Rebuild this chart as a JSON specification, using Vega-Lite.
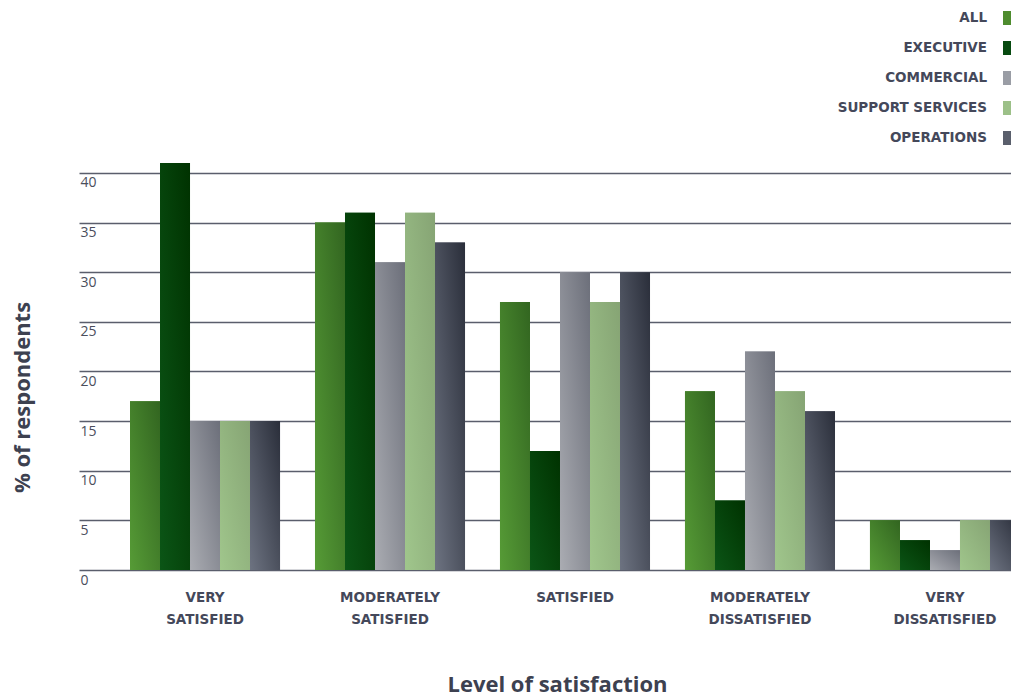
{
  "$schema": "https://vega.github.io/schema/vega-lite/v6.json",
  "width": 932,
  "height": 407,
  "autosize": "none",
  "padding": {"left": 79, "top": 163, "right": 0, "bottom": 128},
  "background": "white",
  "config": {
    "view": {"stroke": null},
    "font": "Open Sans"
  },
  "data": {
    "values": [
      {"level": "VERY SATISFIED", "group": "ALL", "pct": 17},
      {"level": "VERY SATISFIED", "group": "EXECUTIVE", "pct": 41},
      {"level": "VERY SATISFIED", "group": "COMMERCIAL", "pct": 15},
      {"level": "VERY SATISFIED", "group": "SUPPORT SERVICES", "pct": 15},
      {"level": "VERY SATISFIED", "group": "OPERATIONS", "pct": 15},
      {"level": "MODERATELY SATISFIED", "group": "ALL", "pct": 35},
      {"level": "MODERATELY SATISFIED", "group": "EXECUTIVE", "pct": 36},
      {"level": "MODERATELY SATISFIED", "group": "COMMERCIAL", "pct": 31},
      {"level": "MODERATELY SATISFIED", "group": "SUPPORT SERVICES", "pct": 36},
      {"level": "MODERATELY SATISFIED", "group": "OPERATIONS", "pct": 33},
      {"level": "SATISFIED", "group": "ALL", "pct": 27},
      {"level": "SATISFIED", "group": "EXECUTIVE", "pct": 12},
      {"level": "SATISFIED", "group": "COMMERCIAL", "pct": 30},
      {"level": "SATISFIED", "group": "SUPPORT SERVICES", "pct": 27},
      {"level": "SATISFIED", "group": "OPERATIONS", "pct": 30},
      {"level": "MODERATELY DISSATISFIED", "group": "ALL", "pct": 18},
      {"level": "MODERATELY DISSATISFIED", "group": "EXECUTIVE", "pct": 7},
      {"level": "MODERATELY DISSATISFIED", "group": "COMMERCIAL", "pct": 22},
      {"level": "MODERATELY DISSATISFIED", "group": "SUPPORT SERVICES", "pct": 18},
      {"level": "MODERATELY DISSATISFIED", "group": "OPERATIONS", "pct": 16},
      {"level": "VERY DISSATISFIED", "group": "ALL", "pct": 5},
      {"level": "VERY DISSATISFIED", "group": "EXECUTIVE", "pct": 3},
      {"level": "VERY DISSATISFIED", "group": "COMMERCIAL", "pct": 2},
      {"level": "VERY DISSATISFIED", "group": "SUPPORT SERVICES", "pct": 5},
      {"level": "VERY DISSATISFIED", "group": "OPERATIONS", "pct": 5}
    ]
  },
  "encoding": {
    "x": {
      "field": "level",
      "type": "nominal",
      "sort": ["VERY SATISFIED", "MODERATELY SATISFIED", "SATISFIED", "MODERATELY DISSATISFIED", "VERY DISSATISFIED"],
      "scale": {"range": [0, 992], "paddingInner": 0.189, "paddingOuter": 0.2757},
      "title": "Level of satisfaction",
      "axis": {
        "domain": false,
        "ticks": false,
        "grid": false,
        "labelAngle": 0,
        "labelExpr": "split(datum.label, ' ')",
        "labelBaseline": "top",
        "labelPadding": 20,
        "labelLineHeight": 22,
        "labelFont": "DejaVu Sans",
        "labelFontSize": 13.5,
        "labelFontWeight": 600,
        "labelColor": "#44485a",
        "titleFont": "Open Sans",
        "titleFontSize": 22,
        "titleFontWeight": 700,
        "titleColor": "#3d4150",
        "titleX": 478,
        "titleY": 114,
        "titleAlign": "center",
        "titleBaseline": "middle"
      }
    },
    "xOffset": {
      "field": "group",
      "sort": ["ALL", "EXECUTIVE", "COMMERCIAL", "SUPPORT SERVICES", "OPERATIONS"],
      "scale": {"paddingInner": 0, "paddingOuter": 0}
    },
    "y": {
      "field": "pct",
      "type": "quantitative",
      "scale": {"domain": [0, 41], "nice": false, "zero": true},
      "title": "% of respondents",
      "axis": {
        "values": [0, 5, 10, 15, 20, 25, 30, 35, 40],
        "domain": false,
        "ticks": false,
        "grid": true,
        "gridColor": "#5a5e6c",
        "gridWidth": 1.5,
        "labelAlign": "left",
        "labelBaseline": "top",
        "labelPadding": -1,
        "labelOffset": 3,
        "labelFont": "Open Sans",
        "labelFontSize": 14,
        "labelColor": "#4a4e5c",
        "titleFont": "Open Sans",
        "titleFontSize": 22,
        "titleFontWeight": 700,
        "titleColor": "#3d4150",
        "titleX": -57,
        "titleY": 234,
        "titleAlign": "center",
        "titleBaseline": "middle"
      }
    }
  },
  "layer": [
    {
      "mark": {"type": "bar", "clip": true},
      "encoding": {
        "color": {
          "field": "group",
          "type": "nominal",
          "scale": {
            "domain": ["ALL", "EXECUTIVE", "COMMERCIAL", "SUPPORT SERVICES", "OPERATIONS"],
            "range": ["#4e8c2e", "#074a10", "#9a9da5", "#9cc088", "#5a5f6c"]
          },
          "legend": {
            "title": null,
            "orient": "none",
            "legendX": 921,
            "legendY": -152,
            "padding": 0,
            "symbolType": "M-0.57,-1H0.57V1H-0.57Z",
            "symbolSize": 196,
            "symbolStrokeWidth": 0,
            "rowPadding": 16,
            "labelAlign": "right",
            "labelBaseline": "middle",
            "labelOffset": -27,
            "labelFont": "DejaVu Sans",
            "labelFontSize": 13.5,
            "labelFontWeight": 600,
            "labelColor": "#44485a",
            "labelLimit": 300
          }
        }
      }
    },
    {
      "mark": {"type": "bar", "clip": true},
      "encoding": {
        "fill": {
          "condition": [
            {"test": "datum.group === 'ALL'", "value": {"gradient": "linear", "x1": 0, "y1": 1, "x2": 1, "y2": 0, "stops": [{"offset": 0, "color": "#569b36"}, {"offset": 1, "color": "#326520"}]}},
            {"test": "datum.group === 'EXECUTIVE'", "value": {"gradient": "linear", "x1": 0, "y1": 1, "x2": 1, "y2": 0, "stops": [{"offset": 0, "color": "#0b5516"}, {"offset": 1, "color": "#003200"}]}},
            {"test": "datum.group === 'COMMERCIAL'", "value": {"gradient": "linear", "x1": 0, "y1": 1, "x2": 1, "y2": 0, "stops": [{"offset": 0, "color": "#aaacb2"}, {"offset": 1, "color": "#6c6f7a"}]}},
            {"test": "datum.group === 'SUPPORT SERVICES'", "value": {"gradient": "linear", "x1": 0, "y1": 1, "x2": 1, "y2": 0, "stops": [{"offset": 0, "color": "#a0c68c"}, {"offset": 1, "color": "#86a474"}]}}
          ],
          "value": {"gradient": "linear", "x1": 0, "y1": 1, "x2": 1, "y2": 0, "stops": [{"offset": 0, "color": "#6d7381"}, {"offset": 1, "color": "#2a2e3a"}]}
        }
      }
    }
  ]
}
